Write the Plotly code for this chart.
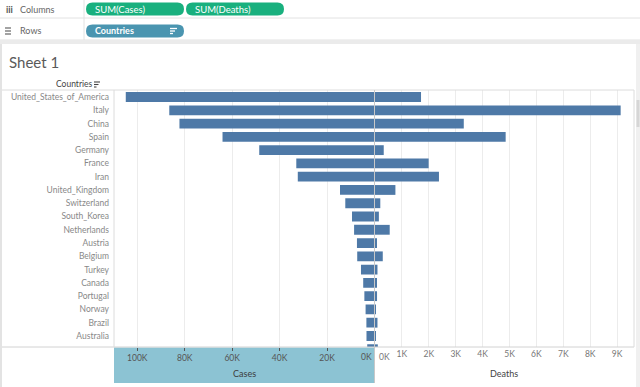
import plotly.graph_objects as go

# ---------------- data ----------------
countries = ["United_States_of_America", "Italy", "China", "Spain", "Germany", "France", "Iran",
             "United_Kingdom", "Switzerland", "South_Korea", "Netherlands", "Austria", "Belgium",
             "Turkey", "Canada", "Portugal", "Norway", "Brazil", "Australia", "Sweden"]
cases = [104837, 86498, 82213, 64059, 48582, 32964, 32332, 14543, 12311, 9478, 8603, 7399, 7284,
         5698, 4757, 4268, 3755, 3417, 3378, 3069]
deaths = [1711, 9134, 3301, 4858, 325, 1995, 2378, 759, 197, 144, 547, 58, 289, 92, 55, 76, 19, 92, 13, 105]

cases_ticks = [0, 20000, 40000, 60000, 80000, 100000]
cases_ticktext = ["", "20K", "40K", "60K", "80K", "100K"]
deaths_ticks = [0, 1000, 2000, 3000, 4000, 5000, 6000, 7000, 8000, 9000]
deaths_ticktext = ["", "1K", "2K", "3K", "4K", "5K", "6K", "7K", "8K", "9K"]

W, H = 640, 387
FONT = "Lato"
BAR = "#4e79a7"


def px(x):
    return x / W


def py(y):
    return 1 - y / H


def rr(x0, y0, x1, y1, r):
    pts = [("M", [(x0 + r, y0)]), ("L", [(x1 - r, y0)]), ("Q", [(x1, y0), (x1, y0 + r)]),
           ("L", [(x1, y1 - r)]), ("Q", [(x1, y1), (x1 - r, y1)]), ("L", [(x0 + r, y1)]),
           ("Q", [(x0, y1), (x0, y1 - r)]), ("L", [(x0, y0 + r)]), ("Q", [(x0, y0), (x0 + r, y0)])]
    s = ""
    for cmd, ps in pts:
        s += cmd + " " + " ".join(f"{px(a):.5f},{py(b):.5f}" for a, b in ps) + " "
    return s + "Z"


fig = go.Figure()
fig.add_trace(go.Bar(x=cases, y=countries, orientation="h", xaxis="x", yaxis="y",
                     marker=dict(color=BAR, line=dict(width=0)), width=0.74,
                     hovertemplate="%{y}: %{x}<extra>Cases</extra>"))
fig.add_trace(go.Bar(x=deaths, y=countries, orientation="h", xaxis="x2", yaxis="y",
                     marker=dict(color=BAR, line=dict(width=0)), width=0.74,
                     hovertemplate="%{y}: %{x}<extra>Deaths</extra>"))

shapes = []
ann = []


def line(x0, y0, x1, y1, color="#e2e2e2", w=1):
    shapes.append(dict(type="line", xref="paper", yref="paper", x0=px(x0), y0=py(y0), x1=px(x1), y1=py(y1),
                       line=dict(color=color, width=w), layer="above"))


def rect(x0, y0, x1, y1, color, layer="below"):
    shapes.append(dict(type="rect", xref="paper", yref="paper", x0=px(x0), y0=py(y0), x1=px(x1), y1=py(y1),
                       fillcolor=color, line=dict(width=0), layer=layer))


def text(x, y, s, size=9, color="#666", xanchor="left", family=FONT):
    ann.append(dict(x=px(x), y=py(y), xref="paper", yref="paper", text=s, showarrow=False,
                    xanchor=xanchor, yanchor="middle", font=dict(size=size, color=color, family=family)))


# shelf area
line(0, 18, 640, 18)
line(0, 40, 640, 40)
rect(0, 40.5, 640, 44, "#ebebeb")
line(84, 0, 84, 40)
text(4, 9, "<b>iii</b>", 9, "#555")
text(18, 9, "Columns", 9, "#666")
for yy in (28, 31, 34):
    line(5, yy, 11, yy, "#666", 1.2)
text(18, 31, "Rows", 9, "#666")
shapes.append(dict(type="path", xref="paper", yref="paper", path=rr(86, 2.5, 184, 15.5, 6.5),
                   fillcolor="#19b07e", line=dict(width=0)))
shapes.append(dict(type="path", xref="paper", yref="paper", path=rr(186, 2.5, 284, 15.5, 6.5),
                   fillcolor="#19b07e", line=dict(width=0)))
shapes.append(dict(type="path", xref="paper", yref="paper", path=rr(86, 24.5, 184, 37.5, 6.5),
                   fillcolor="#4a95b0", line=dict(width=0)))
text(93, 9, "SUM(Cases)", 9.5, "white")
text(193, 9, "SUM(Deaths)", 9.5, "white")
text(93, 31, "<b>Countries</b>", 9, "white")
line(170, 28.5, 177, 28.5, "white", 1.3)
line(170, 31, 175, 31, "white", 1.3)
line(170, 33.5, 173, 33.5, "white", 1.3)

# sheet borders
rect(0, 44, 2, 387, "#e3e3e3")
rect(636, 44, 640, 387, "#f0f0f0")
rect(636.5, 100, 639.5, 127, "#d6d6d6")

# title
text(7, 62, "Sheet 1", 15, "#5a5a5a")
text(54, 84.5, "Countries", 8.5, "#444")
line(94, 82, 100, 82, "#444", 1.1)
line(94, 84.5, 98.5, 84.5, "#444", 1.1)
line(94, 87, 96.5, 87, "#444", 1.1)

# plot frame lines
line(2, 90, 634, 90, "#dcdcdc")
line(2, 347, 634, 347, "#d2d2d2")
line(114, 90, 114, 347, "#dcdcdc")
line(634, 90, 634, 347, "#dcdcdc")
line(374.5, 90, 374.5, 383, "#c8c8c8")

# cases axis highlight
rect(114, 347.5, 374.5, 383, "#8cc3d3")

text(374, 357, "0K", 8.5, "#555", "right")
text(376.5, 357, "0K", 8.5, "#777", "left")
text(244, 373, "Cases", 9, "#3c3c3c", "center")
text(504, 373, "Deaths", 9, "#444", "center")

y0d, y1d = 1 - 347 / H, 1 - 90 / H

fig.update_layout(
    width=W, height=H, margin=dict(l=0, r=0, t=0, b=0),
    paper_bgcolor="white", plot_bgcolor="rgba(0,0,0,0)",
    showlegend=False, barmode="overlay", bargap=0.26,
    font=dict(family=FONT, size=9, color="#666"),
    shapes=shapes, annotations=ann,
    xaxis=dict(domain=[px(114), px(374.5)], range=[109800, 0], tickvals=cases_ticks, ticktext=cases_ticktext,
               showgrid=True, gridcolor="#ececec", zeroline=False, showline=False,
               ticks="outside", ticklen=3, tickcolor="#555", tickfont=dict(size=8.5, color="#555"),
               anchor="y", fixedrange=True),
    xaxis2=dict(domain=[px(375), px(634)], range=[0, 9630], tickvals=deaths_ticks, ticktext=deaths_ticktext,
                showgrid=True, gridcolor="#ececec", zeroline=False, showline=False,
                ticks="", tickfont=dict(size=8.5, color="#777"), anchor="y", fixedrange=True),
    yaxis=dict(domain=[y0d, y1d], type="category", categoryorder="array", categoryarray=countries,
               range=[18.83, -0.53], showgrid=False, zeroline=False, showline=False, ticks="",
               tickfont=dict(size=8.5, color="#888"), ticklabelstandoff=4, anchor="x", fixedrange=True),
)

fig.write_html("out.html", config={"displayModeBar": False},
               post_script="document.body.style.margin='0px';document.body.style.overflow='hidden';")
